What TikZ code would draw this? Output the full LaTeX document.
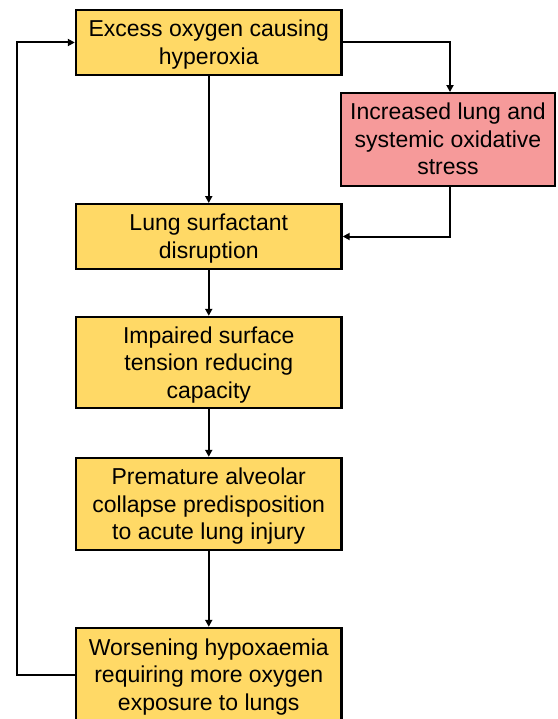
\documentclass[tikz,border=0pt]{standalone}
\usepackage{fontspec}
\setmainfont{Liberation Sans}
\usetikzlibrary{arrows.meta}
\definecolor{boxyellow}{HTML}{FFD966}
\definecolor{boxred}{HTML}{F69A9A}
\newcommand{\bxtext}[1]{\raisebox{-2.5pt}[\height][\depth]{\begin{tabular}{@{}c@{}}#1\end{tabular}}}
\tikzset{
  flowbox/.style={draw=black, line width=2.4pt, inner sep=0pt,
    minimum width=265.5pt, font=\fontsize{23}{27.5}\selectfont},
  ybox/.style={flowbox, fill=boxyellow},
  rbox/.style={flowbox, fill=boxred, minimum width=214pt},
  conn/.style={line width=2pt, -{Triangle[length=7pt,width=7pt]}}
}
\begin{document}
\begin{tikzpicture}[x=1pt,y=-1pt]
\useasboundingbox (0,0) rectangle (557,719);
\clip (0,0) rectangle (557,719);
\node[ybox, minimum height=65pt] (b1) at (208.75,42.5) {\bxtext{Excess oxygen causing\\hyperoxia}};
\node[rbox, minimum height=92.5pt] (r) at (448,139.5) {\bxtext{Increased lung and\\systemic oxidative\\stress}};
\node[ybox, minimum height=64.5pt] (b2) at (208.75,236.5) {\bxtext{Lung surfactant\\disruption}};
\node[ybox, minimum height=91pt] (b3) at (208.75,362.5) {\bxtext{Impaired surface\\tension reducing\\capacity}};
\node[ybox, minimum height=92pt] (b4) at (208.75,504) {\bxtext{Premature alveolar\\collapse predisposition\\to acute lung injury}};
\node[ybox, minimum height=93pt] (b5) at (208.75,674.5) {\bxtext{Worsening hypoxaemia\\requiring more oxygen\\exposure to lungs}};
\coordinate (c1) at (450,42.5);
\coordinate (c2) at (450,236.5);
\coordinate (c3) at (17,674.5);
\coordinate (c4) at (17,42.5);
\draw[conn] (b1.south) -- (b2.north);
\draw[conn] (b2.south) -- (b3.north);
\draw[conn] (b3.south) -- (b4.north);
\draw[conn] (b4.south) -- (b5.north);
\draw[conn] (b1.east) -- (c1) -- (c1 |- r.north);
\draw[conn] (c1 |- r.south) -- (c2) -- (b2.east);
\draw[conn] (b5.west) -- (c3) -- (c4) -- (b1.west);
\end{tikzpicture}
\end{document}
